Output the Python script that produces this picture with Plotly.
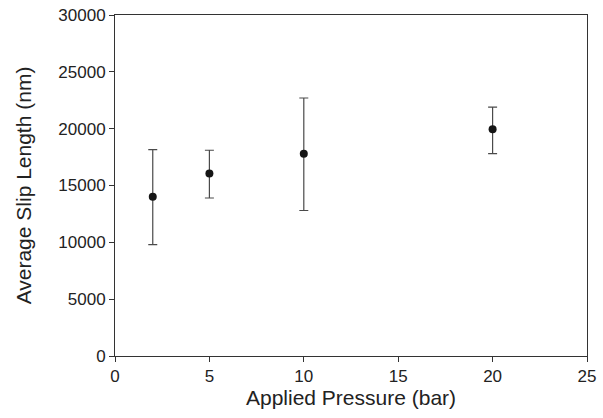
import plotly.graph_objects as go

pressure = [2, 5, 10, 20]
slip_length = [14000, 16050, 17800, 19950]
err_plus = [4150, 2050, 4900, 1950]
err_minus = [4200, 2150, 5000, 2150]

x_ticks = [0, 5, 10, 15, 20, 25]
y_ticks = [0, 5000, 10000, 15000, 20000, 25000, 30000]
y_tick_labels = [str(v) for v in y_ticks]

fig = go.Figure()
fig.add_trace(go.Scatter(
    x=pressure, y=slip_length, mode="markers",
    marker=dict(color="#151515", size=8),
    error_y=dict(type="data", symmetric=False, array=err_plus, arrayminus=err_minus,
                 color="#4a4a4a", thickness=1.2, width=4.5),
    showlegend=False,
))

axis_common = dict(
    showgrid=False, zeroline=False, showline=True, linecolor="#333333", linewidth=1,
    mirror=True, ticks="outside", ticklen=5, tickwidth=1, tickcolor="#333333",
    automargin=False,
    tickfont=dict(family="Liberation Sans, Arial, sans-serif", size=17, color="#222222"),
    title_font=dict(family="Liberation Sans, Arial, sans-serif", size=21, color="#222222"),
)

fig.update_xaxes(range=[0, 25], tickvals=x_ticks, title_text="Applied Pressure (bar)",
                 title_standoff=2, **axis_common)
fig.update_yaxes(range=[0, 30000], tickvals=y_ticks, ticktext=y_tick_labels,
                 title_text="Average Slip Length (nm)",
                 title_standoff=20, **axis_common)

fig.update_layout(
    width=603, height=418,
    margin=dict(l=115, r=16, t=15, b=62),
    plot_bgcolor="white", paper_bgcolor="white",
)

fig.write_html("out.html", config={"displayModeBar": False},
               post_script="document.body.style.margin='0';")
